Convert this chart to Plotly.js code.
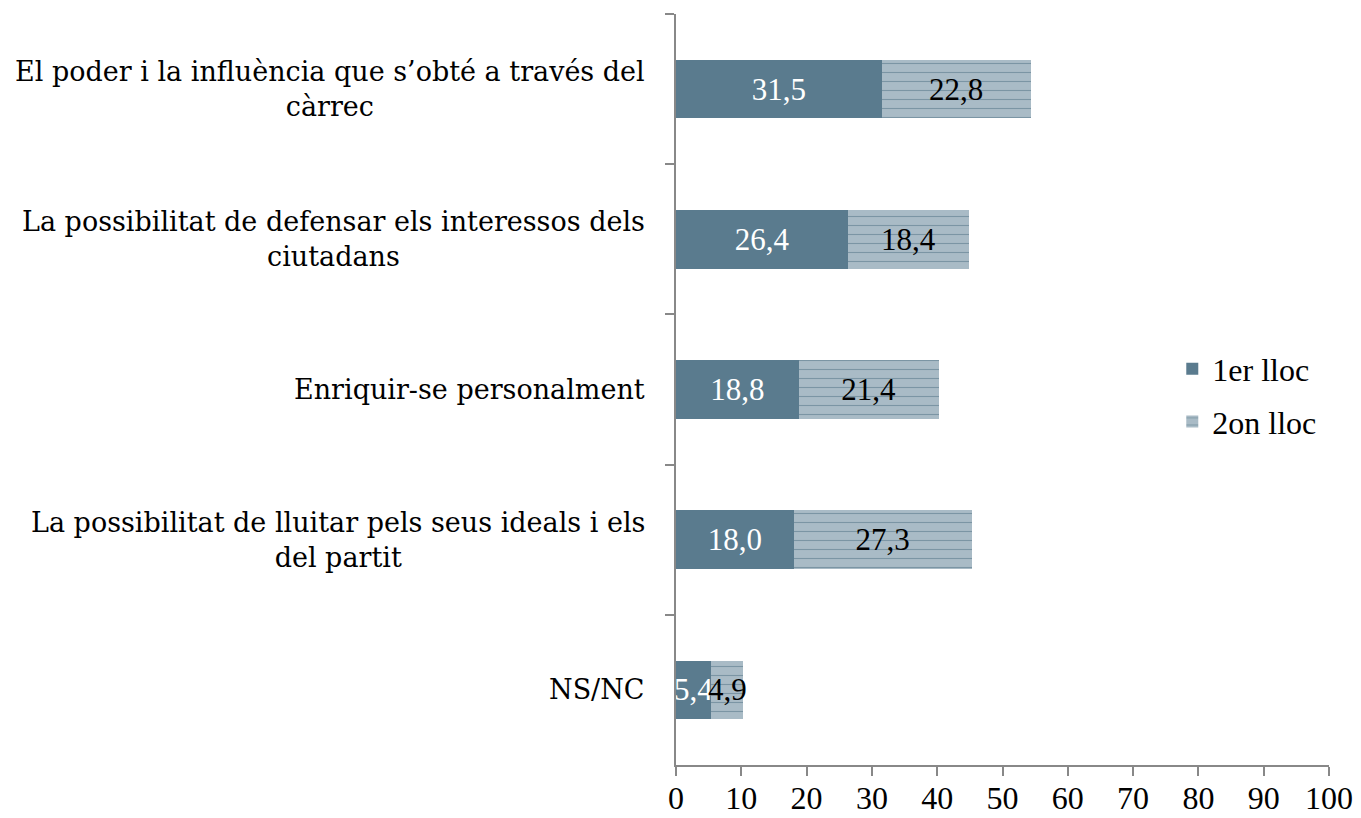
<!DOCTYPE html>
<html><head><meta charset="utf-8">
<script src="https://cdn.plot.ly/plotly-3.0.1.min.js"></script>
<style>body{margin:0;background:#fff}#c{width:1361px;height:818px}</style>
</head><body><div id="c"></div>
<script>
const categories = [
  "El poder i la influència que s’obté a través del<br>càrrec",
  "La possibilitat de defensar els interessos dels<br>ciutadans",
  "Enriquir-se personalment",
  "La possibilitat de lluitar pels seus ideals i els<br>del partit",
  "NS/NC"
];
const primer = [31.5, 26.4, 18.8, 18.0, 5.4];
const segon = [22.8, 18.4, 21.4, 27.3, 4.9];
const seriesNames = ["1er lloc", "2on lloc"];
const xTicks = [0,10,20,30,40,50,60,70,80,90,100];

const fmt = v => v.toFixed(1).replace('.', ',');
const serif = "Liberation Serif, Times New Roman, serif";
const catFont = "DejaVu Serif, serif";

const traces = [
  {type:'bar', orientation:'h', name:seriesNames[0], legendgroup:'a', y:categories, x:primer,
   marker:{color:'#5a7b8e'}, text:primer.map(fmt), textposition:'inside', textangle:0,
   insidetextanchor:'middle', textfont:{family:serif,size:31,color:'#ffffff'},
   hoverinfo:'none'},
  {type:'bar', orientation:'h', name:seriesNames[1], legendgroup:'b', y:categories, x:segon,
   marker:{color:'#a9bbc6', pattern:{shape:'-', fgcolor:'#7b95a4', bgcolor:'#a9bbc6', size:9, solidity:0.12}},
   text:segon.map(fmt), textposition:'inside', textangle:0, insidetextanchor:'middle',
   textfont:{family:serif,size:31,color:'#000000'}, hoverinfo:'none'}
];

const annotations = categories.map(c => ({
  xref:'paper', yref:'y', x:-0.045, y:c, text:c, showarrow:false,
  xanchor:'right', yanchor:'middle', align:'center',
  font:{family:catFont, size:27, color:'#000'}
}));

const layout = {
  width:1361, height:818,
  margin:{l:676, r:32, t:14, b:53},
  paper_bgcolor:'#fff', plot_bgcolor:'#fff',
  barmode:'stack', bargap:0.61,
  uniformtext:{mode:'show', minsize:31},
  showlegend:true,
  legend:{x:0.76, y:0.492, xanchor:'left', yanchor:'middle', font:{family:serif,size:32,color:'#000'},
          itemwidth:30, traceorder:'grouped', tracegroupgap:8, bgcolor:'rgba(0,0,0,0)'},
  xaxis:{range:[0,100], tickvals:xTicks, ticktext:xTicks.map(String), ticks:'outside', ticklen:9,
         tickwidth:2, tickcolor:'#888', showline:true, linecolor:'#888', linewidth:2,
         showgrid:false, zeroline:false, tickfont:{family:serif,size:32,color:'#000'},
         ticklabelstandoff:-5, fixedrange:true},
  yaxis:{type:'category', autorange:'reversed', showticklabels:false, ticks:'outside', ticklen:9,
         tickwidth:2, tickcolor:'#888', tickson:'boundaries', showline:true, linecolor:'#888', linewidth:2,
         showgrid:false, zeroline:false, fixedrange:true},
  annotations:annotations
};
Plotly.newPlot('c', traces, layout, {displayModeBar:false, staticPlot:true});
</script></body></html>
